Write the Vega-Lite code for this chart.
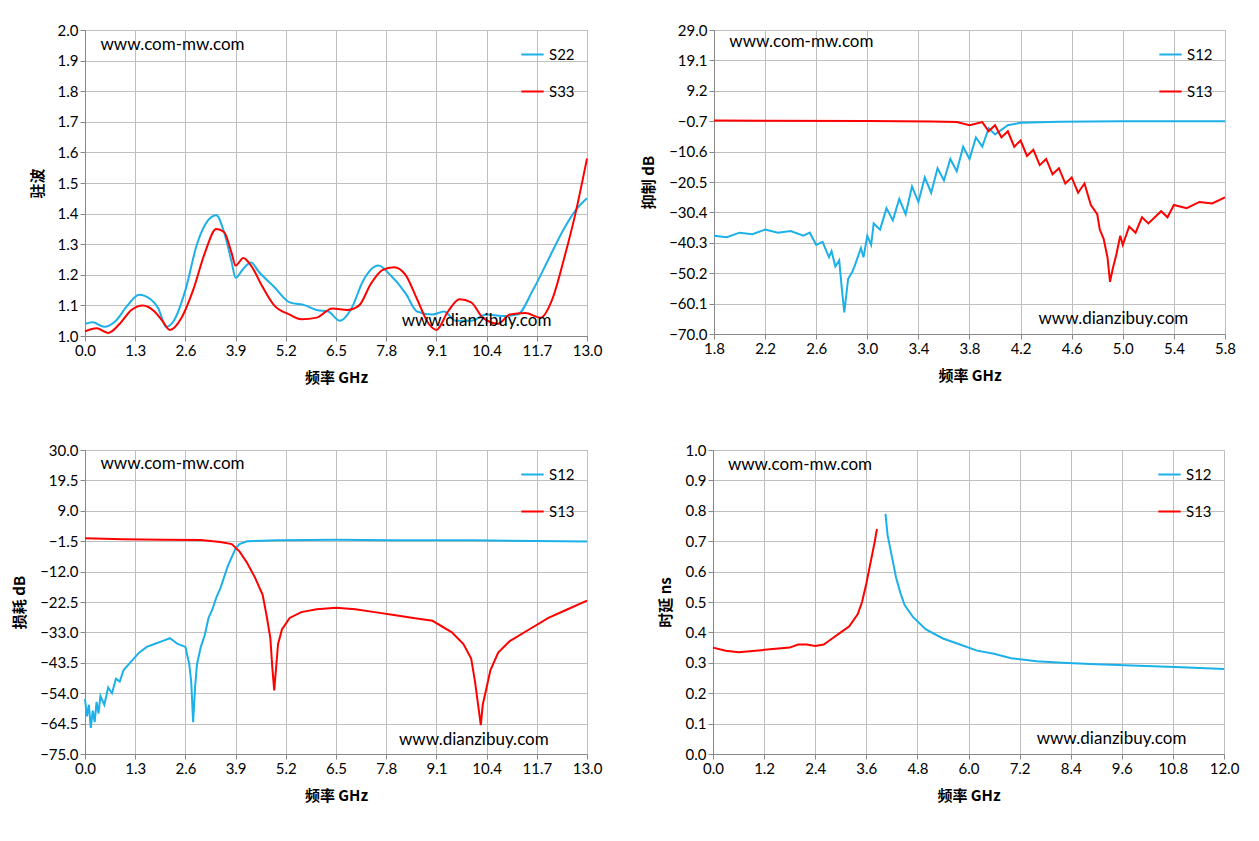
{
  "$schema": "https://vega.github.io/schema/vega-lite/v6.json",
  "background": "white",
  "padding": {"left": 12, "top": 22, "right": 20, "bottom": 10},
  "datasets": {
    "d": [
      {"p":1,"s":"S22","f":0,"v":1.04},{"p":1,"s":"S22","f":0.2,"v":1.045},{"p":1,"s":"S22","f":0.5,"v":1.03},{"p":1,"s":"S22","f":0.8,"v":1.05},{"p":1,"s":"S22","f":1.1,"v":1.1},{"p":1,"s":"S22","f":1.4,"v":1.135},{"p":1,"s":"S22","f":1.7,"v":1.12},{"p":1,"s":"S22","f":1.9,"v":1.09},{"p":1,"s":"S22","f":2.1,"v":1.03},{"p":1,"s":"S22","f":2.3,"v":1.05},{"p":1,"s":"S22","f":2.6,"v":1.15},{"p":1,"s":"S22","f":2.9,"v":1.3},{"p":1,"s":"S22","f":3.2,"v":1.38},{"p":1,"s":"S22","f":3.4,"v":1.395},{"p":1,"s":"S22","f":3.6,"v":1.34},{"p":1,"s":"S22","f":3.8,"v":1.24},{"p":1,"s":"S22","f":3.9,"v":1.19},{"p":1,"s":"S22","f":4.1,"v":1.22},{"p":1,"s":"S22","f":4.3,"v":1.24},{"p":1,"s":"S22","f":4.5,"v":1.21},{"p":1,"s":"S22","f":4.9,"v":1.16},{"p":1,"s":"S22","f":5.3,"v":1.11},{"p":1,"s":"S22","f":5.7,"v":1.1},{"p":1,"s":"S22","f":6.0,"v":1.085},{"p":1,"s":"S22","f":6.3,"v":1.08},{"p":1,"s":"S22","f":6.6,"v":1.05},{"p":1,"s":"S22","f":6.9,"v":1.09},{"p":1,"s":"S22","f":7.2,"v":1.18},{"p":1,"s":"S22","f":7.6,"v":1.23},{"p":1,"s":"S22","f":7.9,"v":1.2},{"p":1,"s":"S22","f":8.3,"v":1.14},{"p":1,"s":"S22","f":8.6,"v":1.08},{"p":1,"s":"S22","f":9.0,"v":1.07},{"p":1,"s":"S22","f":9.3,"v":1.08},{"p":1,"s":"S22","f":9.6,"v":1.05},{"p":1,"s":"S22","f":10.0,"v":1.05},{"p":1,"s":"S22","f":10.4,"v":1.07},{"p":1,"s":"S22","f":10.8,"v":1.065},{"p":1,"s":"S22","f":11.2,"v":1.07},{"p":1,"s":"S22","f":11.6,"v":1.15},{"p":1,"s":"S22","f":12.0,"v":1.25},{"p":1,"s":"S22","f":12.4,"v":1.35},{"p":1,"s":"S22","f":12.7,"v":1.41},{"p":1,"s":"S22","f":13,"v":1.45},
      {"p":1,"s":"S33","f":0,"v":1.015},{"p":1,"s":"S33","f":0.3,"v":1.025},{"p":1,"s":"S33","f":0.6,"v":1.01},{"p":1,"s":"S33","f":0.9,"v":1.04},{"p":1,"s":"S33","f":1.2,"v":1.085},{"p":1,"s":"S33","f":1.5,"v":1.1},{"p":1,"s":"S33","f":1.8,"v":1.08},{"p":1,"s":"S33","f":2.0,"v":1.05},{"p":1,"s":"S33","f":2.2,"v":1.02},{"p":1,"s":"S33","f":2.5,"v":1.06},{"p":1,"s":"S33","f":2.8,"v":1.15},{"p":1,"s":"S33","f":3.1,"v":1.27},{"p":1,"s":"S33","f":3.4,"v":1.35},{"p":1,"s":"S33","f":3.6,"v":1.34},{"p":1,"s":"S33","f":3.8,"v":1.27},{"p":1,"s":"S33","f":3.9,"v":1.23},{"p":1,"s":"S33","f":4.1,"v":1.255},{"p":1,"s":"S33","f":4.3,"v":1.23},{"p":1,"s":"S33","f":4.6,"v":1.16},{"p":1,"s":"S33","f":4.9,"v":1.1},{"p":1,"s":"S33","f":5.3,"v":1.07},{"p":1,"s":"S33","f":5.6,"v":1.055},{"p":1,"s":"S33","f":6.0,"v":1.06},{"p":1,"s":"S33","f":6.4,"v":1.09},{"p":1,"s":"S33","f":6.8,"v":1.085},{"p":1,"s":"S33","f":7.1,"v":1.1},{"p":1,"s":"S33","f":7.4,"v":1.17},{"p":1,"s":"S33","f":7.7,"v":1.215},{"p":1,"s":"S33","f":8.0,"v":1.225},{"p":1,"s":"S33","f":8.3,"v":1.2},{"p":1,"s":"S33","f":8.6,"v":1.12},{"p":1,"s":"S33","f":8.9,"v":1.04},{"p":1,"s":"S33","f":9.1,"v":1.02},{"p":1,"s":"S33","f":9.4,"v":1.08},{"p":1,"s":"S33","f":9.7,"v":1.12},{"p":1,"s":"S33","f":10.0,"v":1.11},{"p":1,"s":"S33","f":10.3,"v":1.06},{"p":1,"s":"S33","f":10.7,"v":1.04},{"p":1,"s":"S33","f":11.0,"v":1.07},{"p":1,"s":"S33","f":11.4,"v":1.075},{"p":1,"s":"S33","f":11.8,"v":1.06},{"p":1,"s":"S33","f":12.1,"v":1.12},{"p":1,"s":"S33","f":12.4,"v":1.25},{"p":1,"s":"S33","f":12.7,"v":1.4},{"p":1,"s":"S33","f":13,"v":1.58},

      {"p":2,"s":"S12","f":1.8,"v":-38},{"p":2,"s":"S12","f":1.9,"v":-38.5},{"p":2,"s":"S12","f":2.0,"v":-37},{"p":2,"s":"S12","f":2.1,"v":-37.5},{"p":2,"s":"S12","f":2.2,"v":-36},{"p":2,"s":"S12","f":2.3,"v":-37},{"p":2,"s":"S12","f":2.4,"v":-36.5},{"p":2,"s":"S12","f":2.5,"v":-38},{"p":2,"s":"S12","f":2.55,"v":-37},{"p":2,"s":"S12","f":2.6,"v":-41},{"p":2,"s":"S12","f":2.65,"v":-40},{"p":2,"s":"S12","f":2.7,"v":-45},{"p":2,"s":"S12","f":2.72,"v":-43},{"p":2,"s":"S12","f":2.75,"v":-48},{"p":2,"s":"S12","f":2.78,"v":-46},{"p":2,"s":"S12","f":2.8,"v":-55},{"p":2,"s":"S12","f":2.82,"v":-63},{"p":2,"s":"S12","f":2.85,"v":-52},{"p":2,"s":"S12","f":2.88,"v":-50},{"p":2,"s":"S12","f":2.9,"v":-48},{"p":2,"s":"S12","f":2.95,"v":-42},{"p":2,"s":"S12","f":2.97,"v":-45},{"p":2,"s":"S12","f":3.0,"v":-38},{"p":2,"s":"S12","f":3.03,"v":-41},{"p":2,"s":"S12","f":3.05,"v":-34},{"p":2,"s":"S12","f":3.1,"v":-36},{"p":2,"s":"S12","f":3.15,"v":-29},{"p":2,"s":"S12","f":3.2,"v":-33},{"p":2,"s":"S12","f":3.25,"v":-26},{"p":2,"s":"S12","f":3.3,"v":-31},{"p":2,"s":"S12","f":3.35,"v":-22},{"p":2,"s":"S12","f":3.4,"v":-27},{"p":2,"s":"S12","f":3.45,"v":-19},{"p":2,"s":"S12","f":3.5,"v":-24},{"p":2,"s":"S12","f":3.55,"v":-16},{"p":2,"s":"S12","f":3.6,"v":-20},{"p":2,"s":"S12","f":3.65,"v":-13},{"p":2,"s":"S12","f":3.7,"v":-17},{"p":2,"s":"S12","f":3.75,"v":-9},{"p":2,"s":"S12","f":3.8,"v":-13},{"p":2,"s":"S12","f":3.85,"v":-6},{"p":2,"s":"S12","f":3.9,"v":-9},{"p":2,"s":"S12","f":3.95,"v":-3},{"p":2,"s":"S12","f":4.0,"v":-5},{"p":2,"s":"S12","f":4.1,"v":-2},{"p":2,"s":"S12","f":4.2,"v":-1.2},{"p":2,"s":"S12","f":4.5,"v":-0.9},{"p":2,"s":"S12","f":5.0,"v":-0.7},{"p":2,"s":"S12","f":5.8,"v":-0.7},
      {"p":2,"s":"S13","f":1.8,"v":-0.5},{"p":2,"s":"S13","f":3.0,"v":-0.6},{"p":2,"s":"S13","f":3.5,"v":-0.8},{"p":2,"s":"S13","f":3.7,"v":-1},{"p":2,"s":"S13","f":3.8,"v":-2},{"p":2,"s":"S13","f":3.9,"v":-1},{"p":2,"s":"S13","f":3.95,"v":-4},{"p":2,"s":"S13","f":4.0,"v":-2},{"p":2,"s":"S13","f":4.05,"v":-6},{"p":2,"s":"S13","f":4.1,"v":-4},{"p":2,"s":"S13","f":4.15,"v":-9},{"p":2,"s":"S13","f":4.2,"v":-7},{"p":2,"s":"S13","f":4.25,"v":-12},{"p":2,"s":"S13","f":4.3,"v":-10},{"p":2,"s":"S13","f":4.35,"v":-15},{"p":2,"s":"S13","f":4.4,"v":-13},{"p":2,"s":"S13","f":4.45,"v":-18},{"p":2,"s":"S13","f":4.5,"v":-16},{"p":2,"s":"S13","f":4.55,"v":-21},{"p":2,"s":"S13","f":4.6,"v":-19},{"p":2,"s":"S13","f":4.65,"v":-24},{"p":2,"s":"S13","f":4.7,"v":-21},{"p":2,"s":"S13","f":4.75,"v":-28},{"p":2,"s":"S13","f":4.8,"v":-31},{"p":2,"s":"S13","f":4.82,"v":-36},{"p":2,"s":"S13","f":4.85,"v":-39},{"p":2,"s":"S13","f":4.88,"v":-45},{"p":2,"s":"S13","f":4.9,"v":-53},{"p":2,"s":"S13","f":4.92,"v":-49},{"p":2,"s":"S13","f":4.95,"v":-44},{"p":2,"s":"S13","f":4.98,"v":-38},{"p":2,"s":"S13","f":5.0,"v":-41},{"p":2,"s":"S13","f":5.05,"v":-35},{"p":2,"s":"S13","f":5.1,"v":-37},{"p":2,"s":"S13","f":5.15,"v":-32},{"p":2,"s":"S13","f":5.2,"v":-34},{"p":2,"s":"S13","f":5.3,"v":-30},{"p":2,"s":"S13","f":5.35,"v":-32},{"p":2,"s":"S13","f":5.4,"v":-28},{"p":2,"s":"S13","f":5.5,"v":-29},{"p":2,"s":"S13","f":5.6,"v":-27},{"p":2,"s":"S13","f":5.7,"v":-27.5},{"p":2,"s":"S13","f":5.8,"v":-25.5},

      {"p":3,"s":"S12","f":0,"v":-56},{"p":3,"s":"S12","f":0.05,"v":-62},{"p":3,"s":"S12","f":0.1,"v":-58},{"p":3,"s":"S12","f":0.15,"v":-66},{"p":3,"s":"S12","f":0.2,"v":-60},{"p":3,"s":"S12","f":0.25,"v":-64},{"p":3,"s":"S12","f":0.3,"v":-57},{"p":3,"s":"S12","f":0.35,"v":-61},{"p":3,"s":"S12","f":0.4,"v":-55},{"p":3,"s":"S12","f":0.5,"v":-58},{"p":3,"s":"S12","f":0.6,"v":-52},{"p":3,"s":"S12","f":0.7,"v":-54},{"p":3,"s":"S12","f":0.8,"v":-49},{"p":3,"s":"S12","f":0.9,"v":-50},{"p":3,"s":"S12","f":1.0,"v":-46},{"p":3,"s":"S12","f":1.2,"v":-43},{"p":3,"s":"S12","f":1.4,"v":-40},{"p":3,"s":"S12","f":1.6,"v":-38},{"p":3,"s":"S12","f":1.8,"v":-37},{"p":3,"s":"S12","f":2.0,"v":-36},{"p":3,"s":"S12","f":2.2,"v":-35},{"p":3,"s":"S12","f":2.4,"v":-37},{"p":3,"s":"S12","f":2.6,"v":-38},{"p":3,"s":"S12","f":2.7,"v":-44},{"p":3,"s":"S12","f":2.75,"v":-50},{"p":3,"s":"S12","f":2.8,"v":-64},{"p":3,"s":"S12","f":2.85,"v":-52},{"p":3,"s":"S12","f":2.9,"v":-44},{"p":3,"s":"S12","f":3.0,"v":-38},{"p":3,"s":"S12","f":3.1,"v":-34},{"p":3,"s":"S12","f":3.2,"v":-28},{"p":3,"s":"S12","f":3.3,"v":-25},{"p":3,"s":"S12","f":3.4,"v":-21},{"p":3,"s":"S12","f":3.5,"v":-18},{"p":3,"s":"S12","f":3.6,"v":-14},{"p":3,"s":"S12","f":3.7,"v":-10},{"p":3,"s":"S12","f":3.8,"v":-7},{"p":3,"s":"S12","f":3.9,"v":-4},{"p":3,"s":"S12","f":4.0,"v":-2.5},{"p":3,"s":"S12","f":4.2,"v":-1.5},{"p":3,"s":"S12","f":5,"v":-1.2},{"p":3,"s":"S12","f":6.5,"v":-1.0},{"p":3,"s":"S12","f":8,"v":-1.2},{"p":3,"s":"S12","f":10,"v":-1.2},{"p":3,"s":"S12","f":13,"v":-1.6},
      {"p":3,"s":"S13","f":0,"v":-0.5},{"p":3,"s":"S13","f":1,"v":-0.8},{"p":3,"s":"S13","f":2,"v":-1.0},{"p":3,"s":"S13","f":3,"v":-1.1},{"p":3,"s":"S13","f":3.5,"v":-1.8},{"p":3,"s":"S13","f":3.8,"v":-2.5},{"p":3,"s":"S13","f":4.0,"v":-5},{"p":3,"s":"S13","f":4.2,"v":-9},{"p":3,"s":"S13","f":4.4,"v":-14},{"p":3,"s":"S13","f":4.6,"v":-20},{"p":3,"s":"S13","f":4.7,"v":-27},{"p":3,"s":"S13","f":4.8,"v":-35},{"p":3,"s":"S13","f":4.85,"v":-45},{"p":3,"s":"S13","f":4.9,"v":-53},{"p":3,"s":"S13","f":4.95,"v":-45},{"p":3,"s":"S13","f":5.0,"v":-37},{"p":3,"s":"S13","f":5.1,"v":-32},{"p":3,"s":"S13","f":5.3,"v":-28},{"p":3,"s":"S13","f":5.6,"v":-26},{"p":3,"s":"S13","f":6.0,"v":-25},{"p":3,"s":"S13","f":6.5,"v":-24.5},{"p":3,"s":"S13","f":7.0,"v":-25},{"p":3,"s":"S13","f":7.5,"v":-26},{"p":3,"s":"S13","f":8.0,"v":-27},{"p":3,"s":"S13","f":8.5,"v":-28},{"p":3,"s":"S13","f":9.0,"v":-29},{"p":3,"s":"S13","f":9.5,"v":-33},{"p":3,"s":"S13","f":9.8,"v":-37},{"p":3,"s":"S13","f":10.0,"v":-42},{"p":3,"s":"S13","f":10.1,"v":-50},{"p":3,"s":"S13","f":10.2,"v":-60},{"p":3,"s":"S13","f":10.25,"v":-65},{"p":3,"s":"S13","f":10.3,"v":-58},{"p":3,"s":"S13","f":10.4,"v":-52},{"p":3,"s":"S13","f":10.5,"v":-46},{"p":3,"s":"S13","f":10.7,"v":-40},{"p":3,"s":"S13","f":11.0,"v":-36},{"p":3,"s":"S13","f":11.5,"v":-32},{"p":3,"s":"S13","f":12.0,"v":-28},{"p":3,"s":"S13","f":12.5,"v":-25},{"p":3,"s":"S13","f":13,"v":-22},

      {"p":4,"s":"S13","f":0,"v":0.35},{"p":4,"s":"S13","f":0.3,"v":0.34},{"p":4,"s":"S13","f":0.6,"v":0.335},{"p":4,"s":"S13","f":1,"v":0.34},{"p":4,"s":"S13","f":1.4,"v":0.345},{"p":4,"s":"S13","f":1.8,"v":0.35},{"p":4,"s":"S13","f":2.0,"v":0.36},{"p":4,"s":"S13","f":2.2,"v":0.36},{"p":4,"s":"S13","f":2.4,"v":0.355},{"p":4,"s":"S13","f":2.6,"v":0.36},{"p":4,"s":"S13","f":2.8,"v":0.38},{"p":4,"s":"S13","f":3.0,"v":0.4},{"p":4,"s":"S13","f":3.2,"v":0.42},{"p":4,"s":"S13","f":3.4,"v":0.46},{"p":4,"s":"S13","f":3.5,"v":0.5},{"p":4,"s":"S13","f":3.6,"v":0.56},{"p":4,"s":"S13","f":3.7,"v":0.63},{"p":4,"s":"S13","f":3.8,"v":0.7},{"p":4,"s":"S13","f":3.85,"v":0.74},
      {"p":4,"s":"S12","f":4.05,"v":0.79},{"p":4,"s":"S12","f":4.1,"v":0.72},{"p":4,"s":"S12","f":4.2,"v":0.65},{"p":4,"s":"S12","f":4.3,"v":0.58},{"p":4,"s":"S12","f":4.4,"v":0.53},{"p":4,"s":"S12","f":4.5,"v":0.49},{"p":4,"s":"S12","f":4.7,"v":0.45},{"p":4,"s":"S12","f":5.0,"v":0.41},{"p":4,"s":"S12","f":5.4,"v":0.38},{"p":4,"s":"S12","f":5.8,"v":0.36},{"p":4,"s":"S12","f":6.2,"v":0.34},{"p":4,"s":"S12","f":6.6,"v":0.33},{"p":4,"s":"S12","f":7.0,"v":0.315},{"p":4,"s":"S12","f":7.6,"v":0.305},{"p":4,"s":"S12","f":8.2,"v":0.3},{"p":4,"s":"S12","f":9,"v":0.295},{"p":4,"s":"S12","f":10,"v":0.29},{"p":4,"s":"S12","f":11,"v":0.285},{"p":4,"s":"S12","f":12,"v":0.28}
    ],
    "one": [{}]
  },
  "config": {
    "font": "Lato",
    "view": {"stroke": "#bfbfbf"},
    "axis": {"labelFontSize": 15, "labelColor": "#000", "gridColor": "#bfbfbf", "domainColor": "#888", "tickColor": "#888", "titleFont": "Noto Sans CJK SC", "titleFontSize": 15, "titleFontWeight": "bold", "titleColor": "#000", "labelFlush": false, "labelOverlap": false, "titlePadding": 12, "tickCount": 11},
    "legend": {"orient": "top-right", "title": null, "symbolType": "stroke", "symbolStrokeWidth": 2, "symbolSize": 500, "labelFontSize": 15, "labelColor": "#000", "rowPadding": 16, "offset": 12},
    "line": {"strokeWidth": 2},
    "text": {"fontSize": 17, "font": "Lato", "align": "left", "color": "#000"}
  },
  "resolve": {"scale": {"color": "independent"}, "legend": {"color": "independent"}},
  "spacing": 56,
  "vconcat": [
    {
      "resolve": {"scale": {"color": "independent"}, "legend": {"color": "independent"}},
      "spacing": 38,
      "hconcat": [
        {
          "width": 502, "height": 306,
          "layer": [
            {
              "data": {"name": "d"},
              "transform": [{"filter": "datum.p == 1"}],
              "mark": {"type": "line", "interpolate": "monotone"},
              "encoding": {
                "x": {"field": "f", "type": "quantitative", "title": "频率 GHz", "scale": {"domain": [0, 13], "nice": false}, "axis": {"values": [0,1.3,2.6,3.9,5.2,6.5,7.8,9.1,10.4,11.7,13], "format": ".1f"}},
                "y": {"field": "v", "type": "quantitative", "title": "驻波", "scale": {"domain": [1, 2], "nice": false}, "axis": {"values": [1,1.1,1.2,1.3,1.4,1.5,1.6,1.7,1.8,1.9,2], "format": ".1f"}},
                "color": {"field": "s", "type": "nominal", "scale": {"domain": ["S22", "S33"], "range": ["#1cb0e8", "#ff0000"]}}
              }
            },
            {"data": {"name": "one"}, "mark": {"type": "text", "baseline": "middle"}, "encoding": {"x": {"datum": 0.4}, "y": {"datum": 1.95}, "text": {"value": "www.com-mw.com"}}},
            {"data": {"name": "one"}, "mark": {"type": "text", "baseline": "middle"}, "encoding": {"x": {"datum": 8.2}, "y": {"datum": 1.05}, "text": {"value": "www.dianzibuy.com"}}}
          ]
        },
        {
          "width": 511, "height": 304,
          "layer": [
            {
              "data": {"name": "d"},
              "transform": [{"filter": "datum.p == 2"}],
              "mark": {"type": "line"},
              "encoding": {
                "x": {"field": "f", "type": "quantitative", "title": "频率 GHz", "scale": {"domain": [1.8, 5.8], "nice": false, "zero": false}, "axis": {"values": [1.8,2.2,2.6,3.0,3.4,3.8,4.2,4.6,5.0,5.4,5.8], "format": ".1f"}},
                "y": {"field": "v", "type": "quantitative", "title": "抑制 dB", "scale": {"domain": [-70, 29], "nice": false}, "axis": {"values": [-70,-60.1,-50.2,-40.3,-30.4,-20.5,-10.6,-0.7,9.2,19.1,29], "format": ".1f"}},
                "color": {"field": "s", "type": "nominal", "scale": {"domain": ["S12", "S13"], "range": ["#1cb0e8", "#ff0000"]}}
              }
            },
            {"data": {"name": "one"}, "mark": {"type": "text", "baseline": "middle"}, "encoding": {"x": {"datum": 1.92}, "y": {"datum": 25}, "text": {"value": "www.com-mw.com"}}},
            {"data": {"name": "one"}, "mark": {"type": "text", "baseline": "middle"}, "encoding": {"x": {"datum": 4.34}, "y": {"datum": -65}, "text": {"value": "www.dianzibuy.com"}}}
          ]
        }
      ]
    },
    {
      "resolve": {"scale": {"color": "independent"}, "legend": {"color": "independent"}},
      "spacing": 54,
      "hconcat": [
        {
          "width": 502, "height": 304,
          "layer": [
            {
              "data": {"name": "d"},
              "transform": [{"filter": "datum.p == 3"}],
              "mark": {"type": "line"},
              "encoding": {
                "x": {"field": "f", "type": "quantitative", "title": "频率 GHz", "scale": {"domain": [0, 13], "nice": false}, "axis": {"values": [0,1.3,2.6,3.9,5.2,6.5,7.8,9.1,10.4,11.7,13], "format": ".1f"}},
                "y": {"field": "v", "type": "quantitative", "title": "损耗 dB", "scale": {"domain": [-75, 30], "nice": false}, "axis": {"values": [-75,-64.5,-54,-43.5,-33,-22.5,-12,-1.5,9,19.5,30], "format": ".1f"}},
                "color": {"field": "s", "type": "nominal", "scale": {"domain": ["S12", "S13"], "range": ["#1cb0e8", "#ff0000"]}}
              }
            },
            {"data": {"name": "one"}, "mark": {"type": "text", "baseline": "middle"}, "encoding": {"x": {"datum": 0.4}, "y": {"datum": 25}, "text": {"value": "www.com-mw.com"}}},
            {"data": {"name": "one"}, "mark": {"type": "text", "baseline": "middle"}, "encoding": {"x": {"datum": 8.13}, "y": {"datum": -70}, "text": {"value": "www.dianzibuy.com"}}}
          ]
        },
        {
          "width": 511, "height": 304,
          "layer": [
            {
              "data": {"name": "d"},
              "transform": [{"filter": "datum.p == 4"}],
              "mark": {"type": "line"},
              "encoding": {
                "x": {"field": "f", "type": "quantitative", "title": "频率 GHz", "scale": {"domain": [0, 12], "nice": false}, "axis": {"values": [0,1.2,2.4,3.6,4.8,6,7.2,8.4,9.6,10.8,12], "format": ".1f"}},
                "y": {"field": "v", "type": "quantitative", "title": "时延 ns", "scale": {"domain": [0, 1], "nice": false}, "axis": {"values": [0,0.1,0.2,0.3,0.4,0.5,0.6,0.7,0.8,0.9,1], "format": ".1f"}},
                "color": {"field": "s", "type": "nominal", "scale": {"domain": ["S12", "S13"], "range": ["#1cb0e8", "#ff0000"]}}
              }
            },
            {"data": {"name": "one"}, "mark": {"type": "text", "baseline": "middle"}, "encoding": {"x": {"datum": 0.35}, "y": {"datum": 0.95}, "text": {"value": "www.com-mw.com"}}},
            {"data": {"name": "one"}, "mark": {"type": "text", "baseline": "middle"}, "encoding": {"x": {"datum": 7.6}, "y": {"datum": 0.05}, "text": {"value": "www.dianzibuy.com"}}}
          ]
        }
      ]
    }
  ]
}
